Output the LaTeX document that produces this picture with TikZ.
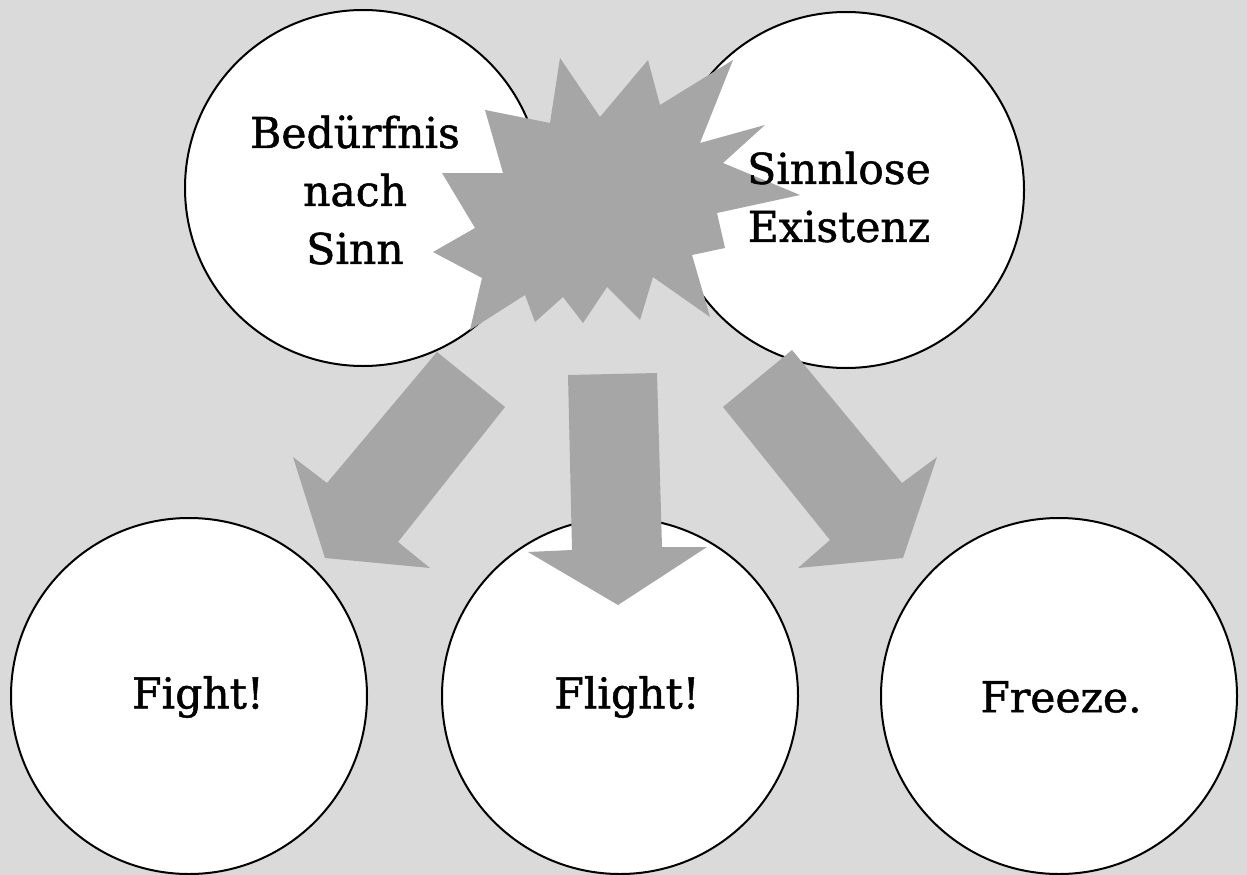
\documentclass[tikz,border=0pt]{standalone}
\usepackage{fontspec}
\newfontfamily\slabfont{DejaVu Serif}[RawFeature={embolden=1.2}]
\definecolor{paper}{RGB}{218,218,218}
\definecolor{shapegray}{RGB}{166,166,166}
\begin{document}
\begin{tikzpicture}[x=1pt,y=-1pt,
  bubble/.style={circle, draw=black, line width=2pt, fill=white,
                 minimum size=356pt, inner sep=0pt},
  bubbletext/.style={font=\slabfont\fontsize{42.5}{58}\selectfont, align=center,
                     text=black, inner sep=0pt},
  burst/.style={fill=shapegray},
  blockarrow/.style={fill=shapegray}]

% page and background
\useasboundingbox (0,0) rectangle (1247,875);
\fill[paper] (0,0) rectangle (1247,875);

% the two upper circles
\node[bubble] (need) at (363,188) {};
\node[bubble] (void) at (846,190) {};

% the clash between them
\fill[burst] (560,58) -- (550,123) -- (485,110) -- (503,173) -- (442,173)
  -- (475,228) -- (433,252) -- (482,278) -- (470,330) -- (525,295)
  -- (535,322) -- (563,297) -- (583,323) -- (607,287) -- (640,320)
  -- (653,277) -- (710,317) -- (692,255) -- (725,248) -- (717,213)
  -- (800,195) -- (723,163) -- (765,125) -- (700,143) -- (733,60)
  -- (660,105) -- (648,60) -- (600,117) -- cycle;

\node[bubbletext] (needtext) at (355,190) {Bedürfnis\\nach\\Sinn};
\node[bubbletext] (voidtext) at (839,197) {Sinnlose\\Existenz};

% the three reactions
\node[bubble] (fight)  at (189,696) {};
\node[bubble] (flight) at (620,696) {};
\node[bubble] (freeze) at (1059,696) {};
\node[bubbletext] (fighttext)  at (198,697) {Fight!};
\node[bubbletext] (flighttext) at (627,697) {Flight!};
\node[bubbletext] (freezetext) at (1061,697) {Freeze.};

% block arrows from the clash to each reaction
\fill[blockarrow] (437,352) -- (505,407) -- (398,542) -- (430,568)
  -- (325,558) -- (293,457) -- (327,483) -- cycle;
\fill[blockarrow] (568,375) -- (657,373) -- (662,547) -- (707,547)
  -- (618,605) -- (528,552) -- (572,550) -- cycle;
\fill[blockarrow] (792,350) -- (723,407) -- (830,540) -- (798,568)
  -- (903,558) -- (937,457) -- (902,483) -- cycle;
\end{tikzpicture}
\end{document}
